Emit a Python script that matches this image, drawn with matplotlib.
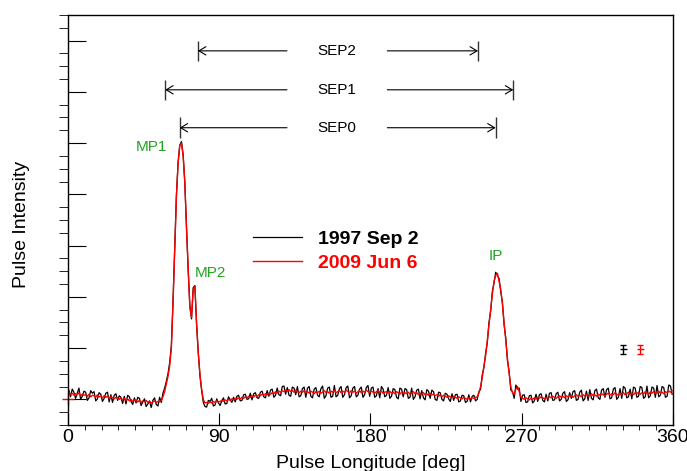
import numpy as np
import matplotlib
matplotlib.use("Agg")
import matplotlib.pyplot as plt

plt.rcParams['font.family'] = ['Liberation Sans', 'DejaVu Sans']

# profile 1997 Sep 2 (black), one value per degree of pulse longitude
prof_1997 = [
    0.18, 0.05, 0.20, 0.14, 0.02, 0.12, 0.22, 0.00, 0.06, 0.16,
    0.14, -0.02, 0.03, 0.17, 0.12, 0.15, -0.03, 0.01, 0.13, 0.10,
    -0.04, 0.02, 0.12, 0.14, -0.05, 0.09, -0.06, 0.08, 0.11, -0.02,
    0.07, 0.04, -0.08, 0.06, -0.09, 0.08, 0.05, -0.04, -0.10, 0.03,
    -0.07, 0.04, 0.02, -0.12, -0.05, 0.01, -0.14, -0.09, -0.03, -0.16,
    -0.02, 0.03, -0.10, -0.13, 0.04, -0.06, 0.12, 0.22, 0.35, 0.50,
    0.72, 1.05, 1.92, 2.98, 3.98, 4.62, 4.96, 5.03, 4.78, 4.22,
    3.38, 2.52, 1.83, 1.57, 2.18, 2.22, 1.46, 0.93, 0.46, 0.18,
    -0.06, -0.14, -0.15, -0.02, -0.04, 0.02, -0.13, -0.11, 0.01, -0.07,
    -0.12, -0.03, 0.03, -0.09, -0.08, 0.05, -0.01, -0.06, 0.04, -0.05,
    0.06, 0.08, -0.03, -0.02, 0.09, 0.10, 0.00, 0.01, 0.12, -0.01,
    0.11, 0.13, 0.03, 0.02, 0.14, 0.16, 0.05, 0.03, 0.17, 0.06,
    0.18, 0.20, 0.04, 0.08, 0.22, 0.09, 0.07, 0.25, 0.26, 0.10,
    0.23, 0.08, 0.06, 0.24, 0.22, 0.09, 0.25, 0.05, 0.07, 0.21,
    0.24, 0.04, 0.22, 0.25, 0.06, 0.03, 0.20, 0.23, 0.08, 0.05,
    0.21, 0.26, 0.02, 0.07, 0.22, 0.24, 0.04, 0.06, 0.27, 0.05,
    0.08, 0.21, 0.25, 0.04, 0.09, 0.23, 0.26, 0.03, 0.07, 0.22,
    0.25, 0.05, 0.08, 0.20, 0.24, 0.04, 0.09, 0.23, 0.27, 0.06,
    0.22, 0.24, 0.04, 0.07, 0.21, 0.03, 0.25, 0.20, 0.05, 0.08,
    0.23, 0.02, 0.06, 0.21, 0.19, 0.04, 0.01, 0.22, 0.20, 0.05,
    0.21, 0.19, 0.02, 0.04, 0.22, 0.00, 0.05, 0.18, 0.20, 0.01,
    0.17, 0.03, -0.01, 0.19, 0.16, 0.02, 0.18, 0.15, 0.00, -0.02,
    0.14, 0.13, 0.00, -0.03, 0.12, 0.10, 0.01, -0.04, 0.11, -0.02,
    0.09, 0.10, -0.05, -0.03, 0.08, 0.07, -0.06, -0.04, 0.09, -0.05,
    0.06, 0.08, -0.03, 0.00, 0.15, 0.20, 0.48, 0.62, 0.90, 1.10,
    1.50, 1.72, 2.10, 2.27, 2.48, 2.42, 2.36, 2.10, 1.90, 1.45,
    1.20, 0.75, 0.55, 0.18, 0.15, 0.02, 0.28, 0.20, 0.22, -0.04,
    0.08, 0.09, -0.06, -0.05, 0.07, 0.08, -0.07, -0.03, 0.10, -0.04,
    0.09, 0.11, -0.02, -0.05, 0.10, -0.03, 0.12, 0.13, -0.02, -0.01,
    0.11, 0.14, -0.03, 0.00, 0.12, 0.15, -0.04, -0.01, 0.13, 0.02,
    0.15, 0.17, -0.02, 0.00, 0.14, 0.18, -0.03, 0.01, 0.16, -0.02,
    0.19, 0.02, -0.01, 0.17, 0.20, 0.03, 0.00, 0.18, 0.21, 0.04,
    0.19, 0.22, 0.01, 0.03, 0.20, 0.23, 0.00, 0.04, 0.21, 0.02,
    0.25, 0.22, 0.03, 0.05, 0.20, 0.01, 0.24, 0.22, 0.04, 0.06,
    0.25, 0.23, 0.02, 0.05, 0.26, 0.03, 0.07, 0.24, 0.22, 0.04,
    0.27, 0.05, 0.08, 0.25, 0.23, 0.04, 0.06, 0.28, 0.26, 0.10,
]

# profile 2009 Jun 6 (red)
prof_2009 = [
    0.14, 0.10, 0.12, 0.08, 0.11, 0.09, 0.13, 0.07, 0.10, 0.08,
    0.09, 0.06, 0.10, 0.05, 0.08, 0.07, 0.04, 0.09, 0.05, 0.06,
    0.03, 0.07, 0.04, 0.06, 0.02, 0.05, 0.03, 0.01, 0.04, 0.02,
    0.00, 0.03, -0.01, 0.02, -0.02, 0.01, -0.03, 0.00, -0.04, -0.01,
    -0.03, -0.05, -0.02, -0.06, -0.03, -0.05, -0.02, -0.06, -0.04, -0.07,
    -0.05, -0.03, -0.06, -0.04, -0.05, -0.02, 0.05, 0.15, 0.30, 0.45,
    0.65, 1.00, 1.90, 2.95, 3.95, 4.60, 4.95, 5.00, 4.75, 4.25,
    3.35, 2.55, 1.80, 1.60, 2.15, 2.20, 1.50, 0.90, 0.50, 0.20,
    0.00, -0.07, -0.06, -0.08, -0.05, -0.07, -0.04, -0.06, -0.03, -0.05,
    -0.04, -0.02, -0.04, -0.01, -0.03, 0.00, -0.02, 0.01, -0.01, 0.02,
    0.00, 0.03, 0.01, 0.04, 0.02, 0.05, 0.03, 0.06, 0.04, 0.07,
    0.05, 0.08, 0.06, 0.09, 0.07, 0.10, 0.08, 0.11, 0.09, 0.12,
    0.10, 0.13, 0.11, 0.15, 0.12, 0.16, 0.14, 0.17, 0.15, 0.18,
    0.16, 0.19, 0.15, 0.17, 0.14, 0.18, 0.15, 0.13, 0.16, 0.14,
    0.17, 0.13, 0.15, 0.12, 0.16, 0.14, 0.11, 0.15, 0.13, 0.16,
    0.12, 0.14, 0.17, 0.13, 0.15, 0.12, 0.16, 0.14, 0.18, 0.13,
    0.15, 0.17, 0.13, 0.16, 0.14, 0.18, 0.15, 0.13, 0.17, 0.14,
    0.16, 0.12, 0.15, 0.17, 0.13, 0.16, 0.14, 0.18, 0.15, 0.13,
    0.16, 0.14, 0.12, 0.15, 0.17, 0.13, 0.16, 0.12, 0.14, 0.15,
    0.13, 0.16, 0.12, 0.14, 0.11, 0.15, 0.13, 0.10, 0.14, 0.12,
    0.13, 0.11, 0.14, 0.10, 0.12, 0.15, 0.11, 0.13, 0.09, 0.12,
    0.10, 0.13, 0.09, 0.11, 0.08, 0.12, 0.09, 0.10, 0.07, 0.09,
    0.06, 0.09, 0.05, 0.08, 0.06, 0.04, 0.07, 0.05, 0.03, 0.06,
    0.04, 0.02, 0.05, 0.03, 0.01, 0.04, 0.02, 0.00, 0.03, 0.01,
    0.03, 0.02, 0.04, 0.05, 0.12, 0.25, 0.42, 0.65, 0.85, 1.15,
    1.45, 1.75, 2.05, 2.30, 2.42, 2.46, 2.30, 2.15, 1.85, 1.50,
    1.15, 0.80, 0.50, 0.25, 0.12, 0.10, 0.20, 0.25, 0.15, 0.05,
    0.02, 0.00, 0.03, 0.01, -0.01, 0.02, 0.00, 0.03, 0.01, 0.04,
    0.02, 0.05, 0.03, 0.01, 0.04, 0.02, 0.05, 0.03, 0.06, 0.04,
    0.02, 0.05, 0.07, 0.04, 0.06, 0.03, 0.07, 0.05, 0.08, 0.06,
    0.04, 0.07, 0.09, 0.06, 0.08, 0.05, 0.09, 0.07, 0.10, 0.06,
    0.08, 0.11, 0.07, 0.09, 0.06, 0.10, 0.08, 0.11, 0.09, 0.07,
    0.10, 0.12, 0.08, 0.11, 0.09, 0.13, 0.10, 0.08, 0.12, 0.10,
    0.13, 0.09, 0.11, 0.14, 0.10, 0.12, 0.09, 0.13, 0.11, 0.14,
    0.10, 0.13, 0.11, 0.15, 0.12, 0.10, 0.14, 0.12, 0.15, 0.11,
    0.13, 0.16, 0.12, 0.14, 0.11, 0.15, 0.13, 0.16, 0.14, 0.17,
]
assert len(prof_1997) == 360 and len(prof_2009) == 360

# separation markers: name, left edge, right edge, height
sep_names = ['SEP2', 'SEP1', 'SEP0']
sep_left = [77.3, 57.8, 66.4]
sep_right = [244.0, 265.0, 254.5]
sep_level = [6.80, 6.04, 5.30]
sep_gap = [130.3, 190.0]   # where the arrows stop around the label

# component labels
comp_names = ['MP1', 'MP2', 'IP']
comp_x = [49.9, 84.6, 254.7]
comp_y = [4.92, 2.47, 2.80]

# typical error bars for each observation
err_x = [330.5, 340.5]
err_y = [0.98, 0.98]
err_dx = 2.2
err_dy = 0.09

fig = plt.figure(figsize=(6.87, 4.71), dpi=100)
ax = fig.add_axes([0.099, 0.0977, 0.8806, 0.8705])

phase = np.arange(360) + 0.5
l1, = ax.plot(phase, prof_1997, color='black', lw=0.9, label='1997 Sep 2')
l2, = ax.plot(phase, prof_2009, color='#ff0000', lw=1.0, label='2009 Jun 6')

# red cross at the left edge
ax.plot([0], [0.0], marker='+', color='#ff0000', ms=9, mew=1.0, clip_on=False)

for xe, ye, c in zip(err_x, err_y, ['black', '#ff0000']):
    ax.errorbar(xe, ye, yerr=err_dy, fmt='none', ecolor=c, elinewidth=1.0, capsize=2)
    ax.errorbar(xe, ye, xerr=err_dx, fmt='none', ecolor=c, elinewidth=1.0, capsize=0)

for name, xl, xr, yl in zip(sep_names, sep_left, sep_right, sep_level):
    ax.vlines([xl, xr], yl - 0.2, yl + 0.2, color='#333333', lw=1.0)
    arr = dict(arrowstyle='->,head_length=0.5,head_width=0.3', color='black',
               lw=0.8, shrinkA=0, shrinkB=0)
    ax.annotate('', xy=(xl, yl), xytext=(sep_gap[0], yl), arrowprops=arr)
    ax.annotate('', xy=(xr, yl), xytext=(sep_gap[1], yl), arrowprops=arr)
    ax.text(sum(sep_gap) / 2, yl, name, ha='center', va='center', fontsize=11)

for name, xc, yc in zip(comp_names, comp_x, comp_y):
    ax.text(xc, yc, name, ha='center', va='center', fontsize=11, color='#1fa51f')

ax.set_xlim(0, 360)
ax.set_ylim(-0.5, 7.5)
ax.set_xticks([0, 90, 180, 270, 360])
ax.set_xticks(np.arange(0, 361, 10), minor=True)
ax.set_yticks(np.arange(0, 8, 1))
ax.set_yticks(np.arange(-0.5, 7.51, 0.25), minor=True)
ax.set_yticklabels([])
ax.tick_params(axis='both', direction='in', width=0.8, labelsize=14, pad=3)
ax.tick_params(axis='x', which='major', length=8.6)
ax.tick_params(axis='x', which='minor', length=3.6)
ax.tick_params(axis='y', which='major', length=13)
ax.tick_params(axis='y', which='minor', length=6.5)
for s in ax.spines.values():
    s.set_linewidth(1.0)

ax.set_xlabel('Pulse Longitude [deg]', fontsize=14)
ax.xaxis.set_label_coords(0.5, -0.072)
ax.set_ylabel('Pulse Intensity', fontsize=14)
ax.yaxis.set_label_coords(-0.063, 0.488)

leg = ax.legend(handles=[l1, l2], loc='center left', bbox_to_anchor=(0.306, 0.424),
                frameon=False, borderpad=0, borderaxespad=0, handlelength=2.5,
                handletextpad=0.85, labelspacing=0.3,
                prop={'weight': 'bold', 'size': 14})
for t, c in zip(leg.get_texts(), ['black', '#ff0000']):
    t.set_color(c)

fig.savefig('out.png', dpi=100)
